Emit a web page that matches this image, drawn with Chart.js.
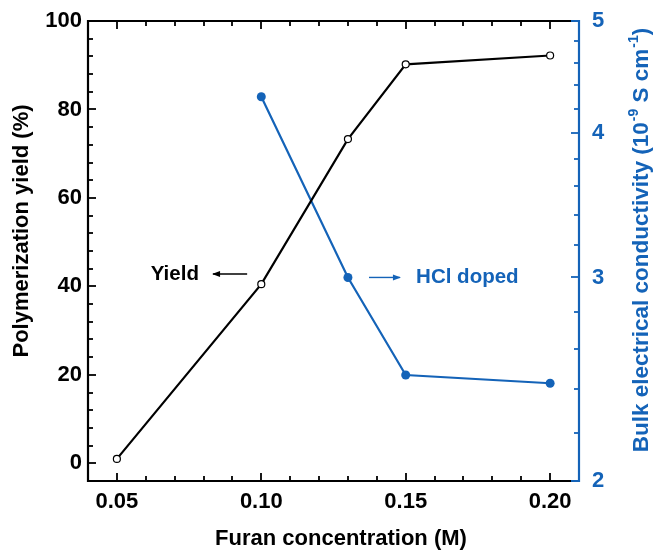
<!DOCTYPE html>
<html>
<head>
<meta charset="utf-8">
<script src="https://cdn.jsdelivr.net/npm/chart.js@4.4.1/dist/chart.umd.min.js"></script>
<style>
  html, body { margin: 0; padding: 0; background: #fff; }
  #wrap { width: 654px; height: 550px; }
</style>
</head>
<body>
<div id="wrap"><canvas id="c" width="654" height="550"></canvas></div>
<script>
// ---- data ----
const xConc = [0.05, 0.10, 0.13, 0.15, 0.20];
const yieldPct = [1, 40.5, 73.3, 90.2, 92.2];
const xCond = [0.10, 0.13, 0.15, 0.20];
const conductivity = [4.30, 3.00, 2.47, 2.43];
const xTicks = [0.05, 0.10, 0.15, 0.20];
const yieldTicks = [0, 20, 40, 60, 80, 100];
const condTicks = [2, 3, 4, 5];
const xMinorStep = 0.01;
const yieldMinorStep = 4;
const condMinorStep = 0.2;

const BLUE = '#1463b8';
const FONT = '"Liberation Sans", Arial, Helvetica, sans-serif';
const tickFont = { family: FONT, size: 22, weight: 'bold' };

function range(a, b, step) {
  const out = [];
  const n = Math.round((b - a) / step);
  for (let i = 0; i <= n; i++) out.push(+(a + i * step).toFixed(6));
  return out;
}

const framePlugin = {
  id: 'frame',
  afterDatasetsDraw(chart) {
    const ctx = chart.ctx;
    const a = chart.chartArea;
    const xs = chart.scales.x, ys = chart.scales.y, y2 = chart.scales.y2;
    ctx.save();
    ctx.lineCap = 'butt';
    // ticks
    ctx.lineWidth = 1.8;
    ctx.strokeStyle = '#000';
    const isMajor = (v, list) => list.some(t => Math.abs(t - v) < 1e-6);
    range(xs.min, xs.max, xMinorStep).forEach(v => {
      const px = Math.round(xs.getPixelForValue(v));
      const L = isMajor(v, xTicks) ? 8 : 5;
      ctx.beginPath();
      ctx.moveTo(px, a.bottom); ctx.lineTo(px, a.bottom - L);
      ctx.moveTo(px, a.top); ctx.lineTo(px, a.top + L);
      ctx.stroke();
    });
    range(ys.min, ys.max, yieldMinorStep).forEach(v => {
      const py = Math.round(ys.getPixelForValue(v));
      const L = isMajor(v, yieldTicks) ? 8 : 5;
      ctx.beginPath();
      ctx.moveTo(a.left, py); ctx.lineTo(a.left + L, py);
      ctx.stroke();
    });
    ctx.strokeStyle = BLUE;
    range(y2.min, y2.max, condMinorStep).forEach(v => {
      const py = Math.round(y2.getPixelForValue(v));
      const L = isMajor(v, condTicks) ? 8 : 5;
      ctx.beginPath();
      ctx.moveTo(a.right, py); ctx.lineTo(a.right - L, py);
      ctx.stroke();
    });
    // axis lines
    ctx.lineWidth = 2.2;
    ctx.strokeStyle = '#000';
    ctx.beginPath();
    ctx.moveTo(a.left, a.top - 1); ctx.lineTo(a.left, a.bottom + 1);
    ctx.moveTo(a.left - 1, a.bottom); ctx.lineTo(a.right, a.bottom);
    ctx.moveTo(a.left - 1, a.top); ctx.lineTo(a.right, a.top);
    ctx.stroke();
    ctx.strokeStyle = BLUE;
    ctx.beginPath();
    ctx.moveTo(a.right, a.top - 1); ctx.lineTo(a.right, a.bottom + 1);
    ctx.moveTo(a.right - 8, a.bottom); ctx.lineTo(a.right + 1, a.bottom);
    ctx.moveTo(a.right - 8, a.top); ctx.lineTo(a.right + 1, a.top);
    ctx.stroke();

    // annotations
    const yieldY = ys.getPixelForValue(42.8);
    const condY = y2.getPixelForValue(3.0);
    function arrow(x1, x2, y, color) {
      ctx.strokeStyle = color; ctx.fillStyle = color; ctx.lineWidth = 1.4;
      ctx.beginPath(); ctx.moveTo(x1, y); ctx.lineTo(x2, y); ctx.stroke();
      const dir = Math.sign(x2 - x1);
      ctx.beginPath();
      ctx.moveTo(x2 + dir * 1, y);
      ctx.lineTo(x2 - dir * 7, y - 3);
      ctx.lineTo(x2 - dir * 7, y + 3);
      ctx.closePath(); ctx.fill();
    }
    arrow(xs.getPixelForValue(0.0951), xs.getPixelForValue(0.0833), yieldY, '#000');
    arrow(xs.getPixelForValue(0.1373), xs.getPixelForValue(0.1480), condY, BLUE);
    ctx.font = 'bold 20.5px ' + FONT;
    ctx.textBaseline = 'middle';
    ctx.fillStyle = '#000';
    ctx.textAlign = 'right';
    ctx.fillText('Yield', xs.getPixelForValue(0.0784), yieldY);
    ctx.fillStyle = BLUE;
    ctx.textAlign = 'left';
    ctx.fillText('HCl doped', xs.getPixelForValue(0.1536), condY);

    // axis titles
    ctx.font = 'bold 22px ' + FONT;
    ctx.fillStyle = '#000';
    ctx.textAlign = 'center';
    ctx.textBaseline = 'middle';
    ctx.fillText('Furan concentration (M)', 341, 539);
    ctx.save();
    ctx.translate(22, 231);
    ctx.rotate(-Math.PI / 2);
    ctx.fillText('Polymerization yield (%)', 0, 0);
    ctx.restore();

    // right title with superscripts
    ctx.save();
    ctx.translate(640, 240);
    ctx.rotate(-Math.PI / 2);
    ctx.fillStyle = BLUE;
    ctx.textAlign = 'left';
    ctx.textBaseline = 'alphabetic';
    const segs = [
      ['Bulk electrical conductivity (10', false],
      ['-9', true],
      [' S cm', false],
      ['-1', true],
      [')', false]
    ];
    const mainF = 'bold 22.5px ' + FONT, supF = 'bold 14px ' + FONT;
    let total = 0;
    segs.forEach(([t, sup]) => { ctx.font = sup ? supF : mainF; total += ctx.measureText(t).width + (sup ? 1 : 0); });
    let cx = -total / 2;
    segs.forEach(([t, sup]) => {
      ctx.font = sup ? supF : mainF;
      ctx.fillText(t, cx + (sup ? 1 : 0), sup ? -2 : 8);
      cx += ctx.measureText(t).width + (sup ? 1 : 0);
    });
    ctx.restore();
    ctx.restore();
  }
};

new Chart(document.getElementById('c'), {
  type: 'line',
  data: {
    datasets: [
      {
        label: 'Yield',
        data: xConc.map((x, i) => ({ x, y: yieldPct[i] })),
        yAxisID: 'y',
        borderColor: '#000',
        borderWidth: 2.2,
        pointRadius: 3.5,
        pointBorderWidth: 1.2,
        pointBackgroundColor: '#fff',
        pointBorderColor: '#000',
        tension: 0,
        clip: false
      },
      {
        label: 'HCl doped',
        data: xCond.map((x, i) => ({ x, y: conductivity[i] })),
        yAxisID: 'y2',
        borderColor: BLUE,
        backgroundColor: BLUE,
        borderWidth: 2.2,
        pointRadius: 4.5,
        pointBorderWidth: 0,
        pointBackgroundColor: BLUE,
        tension: 0,
        clip: false
      }
    ]
  },
  options: {
    responsive: false,
    animation: false,
    layout: { padding: { top: 21, left: 0, right: 0, bottom: 0 } },
    plugins: { legend: { display: false }, tooltip: { enabled: false } },
    scales: {
      x: {
        type: 'linear', position: 'bottom', min: 0.04, max: 0.21,
        grid: { display: false, drawTicks: false }, border: { display: false },
        ticks: { font: tickFont, color: '#000', padding: 8, maxRotation: 0, autoSkip: false,
                 callback: v => Number(v).toFixed(2) },
        afterBuildTicks: s => { s.ticks = xTicks.map(v => ({ value: v })); },
        afterFit: s => { s.height = 69; s.paddingLeft = 0; s.paddingRight = 0; }
      },
      y: {
        type: 'linear', position: 'left', min: -4, max: 100,
        grid: { display: false, drawTicks: false }, border: { display: false },
        ticks: { font: tickFont, color: '#000', padding: 6, callback: v => String(v) },
        afterBuildTicks: s => { s.ticks = yieldTicks.map(v => ({ value: v })); },
        afterFit: s => { s.width = 88; s.paddingTop = 0; s.paddingBottom = 0; }
      },
      y2: {
        type: 'logarithmic', position: 'right', min: 2, max: 5,
        grid: { display: false, drawTicks: false }, border: { display: false },
        ticks: { font: tickFont, color: BLUE, padding: 13, autoSkip: false, callback: v => String(v) },
        afterBuildTicks: s => { s.ticks = condTicks.map(v => ({ value: v })); },
        afterFit: s => { s.width = 75; s.paddingTop = 0; s.paddingBottom = 0; }
      }
    }
  },
  plugins: [framePlugin]
});
</script>
</body>
</html>
